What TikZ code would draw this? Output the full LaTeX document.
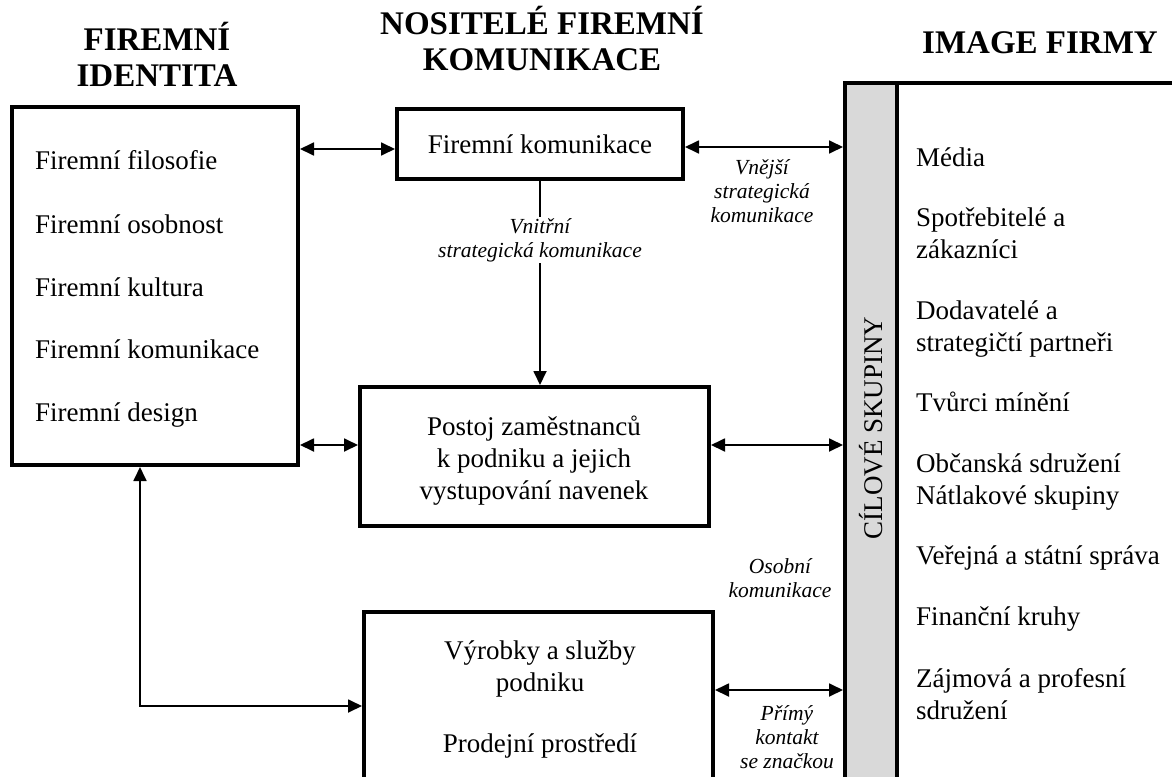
\documentclass[tikz,border=0pt]{standalone}
\usepackage{fontspec}
\setmainfont{Liberation Serif}
\usetikzlibrary{arrows.meta}
\begin{document}
\begin{tikzpicture}[x=1pt,y=-1pt,
  box/.style={draw, line width=4pt, inner sep=0pt},
  conn/.style={line width=1.8pt, -{Triangle[length=14pt,width=13pt]}},
  both/.style={line width=1.8pt, {Triangle[length=14pt,width=13pt]}-{Triangle[length=14pt,width=13pt]}},
  body/.style={font=\fontsize{27}{32}\selectfont, inner sep=0pt},
  lab/.style={font=\fontsize{21.5}{24}\selectfont\itshape, align=center, inner sep=1pt},
  head/.style={font=\fontsize{33}{36}\selectfont\bfseries, align=center, inner sep=0pt}]
\useasboundingbox (0,0) rectangle (1172,776);
\clip (0,0) rectangle (1172,776);

% headers
\node[head] (h1) at (157,54) {FIREMNÍ\\IDENTITA};
\node[head] (h2) at (542,39) {NOSITELÉ FIREMNÍ\\KOMUNIKACE};
\node[head] (h3) at (1040,43) {IMAGE FIRMY};

% boxes
\node[box, minimum width=286pt, minimum height=358pt] (fi) at (155,286) {};
\node[box, minimum width=286pt, minimum height=70pt, body] (fk) at (540,144) {Firemní komunikace};
\node[box, minimum width=349pt, minimum height=139pt] (po) at (534.5,456.5) {};
\node[box, minimum width=349pt, minimum height=188pt] (vy) at (538.5,706) {};
\node[box, fill=gray!30, minimum width=52pt, minimum height=717pt] (cs) at (871,441.5) {};
\node[body, rotate=90] (cst) at (871,428) {CÍLOVÉ SKUPINY};
\coordinate (rt) at (1185,83);
\draw[line width=4pt] (cs.north east) ++(-2pt,-2pt) coordinate (cst2) -- (cst2 -| rt);

% left list
\node[body, anchor=base west] (l1) at (35,169) {Firemní filosofie};
\node[body, anchor=base west] (l2) at (35,233) {Firemní osobnost};
\node[body, anchor=base west] (l3) at (35,296) {Firemní kultura};
\node[body, anchor=base west] (l4) at (35,358) {Firemní komunikace};
\node[body, anchor=base west] (l5) at (35,421) {Firemní design};

% box texts
\node[body, align=center] (pot) at (534,461) {Postoj zaměstnanců\\k podniku a jejich\\vystupování navenek};
\node[body, align=center] (vyt1) at (540,669) {Výrobky a služby\\podniku};
\node[body] (vyt2) at (540,746) {Prodejní prostředí};

% right list
\node[body, anchor=base west] (r1) at (916,166) {Média};
\node[body, anchor=base west] (r2a) at (916,226) {Spotřebitelé a};
\node[body, anchor=base west] (r2b) at (916,258) {zákazníci};
\node[body, anchor=base west] (r3a) at (916,319) {Dodavatelé a};
\node[body, anchor=base west] (r3b) at (916,351) {strategičtí partneři};
\node[body, anchor=base west] (r4) at (916,411) {Tvůrci mínění};
\node[body, anchor=base west] (r5a) at (916,472) {Občanská sdružení};
\node[body, anchor=base west] (r5b) at (916,504) {Nátlakové skupiny};
\node[body, anchor=base west] (r6) at (916,564) {Veřejná a státní správa};
\node[body, anchor=base west] (r7) at (916,625) {Finanční kruhy};
\node[body, anchor=base west] (r8a) at (916,687) {Zájmová a profesní};
\node[body, anchor=base west] (r8b) at (916,719) {sdružení};

% connectors
\coordinate (a1) at ([yshift=-5pt]fk.west);
\draw[both] (fi.east |- a1) -- (a1);
\coordinate (a2) at ([yshift=-3pt]fk.east);
\draw[both] (a2) -- (a2 -| cs.west);
\draw[conn] (fk.south) -- node[lab, fill=white, pos=0.29] (vn) {Vnitřní\\strategická komunikace} (fk.south |- po.north);
\coordinate (b) at ([yshift=11.5pt]po.west);
\draw[both] (fi.east |- b) -- (b);
\coordinate (b2) at ([yshift=11.5pt]po.east);
\draw[both] (b2) -- (b2 -| cs.west);
\draw[both] ([xshift=-15pt]fi.south) |- (vy.west);
\coordinate (c) at ([yshift=16pt]vy.east);
\draw[both] (c) -- (c -| cs.west);

% labels
\node[lab] (ve) at (762,191) {Vnější\\strategická\\komunikace};
\node[lab] (os) at (780,578) {Osobní\\komunikace};
\node[lab] (pr) at (787,737) {Přímý\\kontakt\\se značkou};
\end{tikzpicture}
\end{document}
